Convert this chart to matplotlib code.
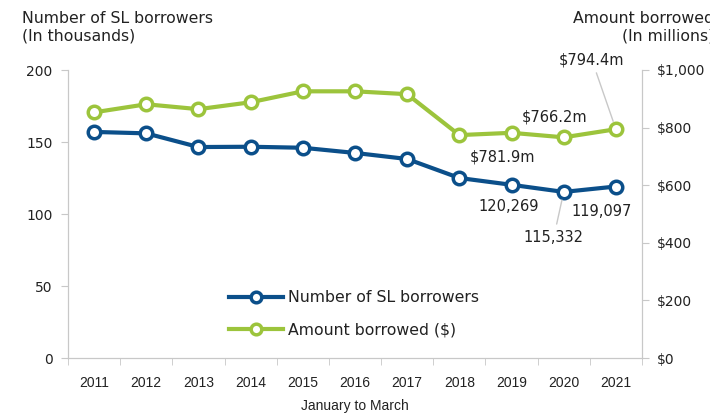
import matplotlib
matplotlib.use("Agg")
import matplotlib.pyplot as plt

years = ["2011", "2012", "2013", "2014", "2015", "2016", "2017", "2018", "2019", "2020", "2021"]
borrowers = [157.0, 156.0, 146.5, 146.7, 146.0, 142.4, 138.2, 125.0, 120.269, 115.332, 119.097]
amount = [853, 881, 864, 888, 926, 926, 916, 774, 781.9, 766.2, 794.4]
left_ticks = [0, 50, 100, 150, 200]
right_ticks = [0, 200, 400, 600, 800, 1000]
right_labels = ["$0", "$200", "$400", "$600", "$800", "$1,000"]

BLUE = "#0b4f8a"
GREEN = "#9cc43c"
GRAY = "#c8c8c8"
TXT = "#222222"
plt.rcParams["font.family"] = ["DejaVu Sans"]

fig = plt.figure(figsize=(7.1, 4.16), dpi=100)
ax = fig.add_axes([68/710, 1-358/416, 574/710, 288/416])
ax2 = ax.twinx()

x = list(range(len(years)))
l1, = ax.plot(x, borrowers, color=BLUE, lw=3, marker="o", ms=9, mfc="white", mec=BLUE, mew=2.5,
              label="Number of SL borrowers", zorder=3)
l2, = ax2.plot(x, amount, color=GREEN, lw=3, marker="o", ms=9, mfc="white", mec=GREEN, mew=2.5,
               label="Amount borrowed ($)", zorder=3)

ax.set_xlim(-0.5, len(years) - 0.5)
ax.set_ylim(0, 200)
ax2.set_ylim(0, 1000)
ax.set_yticks(left_ticks)
ax.set_yticklabels([str(t) for t in left_ticks])
ax2.set_yticks(right_ticks)
ax2.set_yticklabels(right_labels)

ax.set_xticks(x)
ax.set_xticklabels(years, family="Liberation Sans", fontsize=10, color=TXT)
ax.set_xticks([i - 0.5 for i in range(len(years) + 1)], minor=True)
ax.tick_params(axis="x", which="major", length=0, pad=13)
ax.tick_params(axis="x", which="minor", length=5, color=GRAY)

for a in (ax, ax2):
    for s in a.spines.values():
        s.set_color(GRAY)
    a.spines["top"].set_visible(False)
ax.tick_params(axis="y", length=5, color=GRAY, labelsize=10, labelcolor=TXT, pad=6)
ax2.tick_params(axis="y", length=5, color=GRAY, labelsize=10, labelcolor=TXT, pad=6)

# annotations
ann_kw = dict(fontsize=10.5, color=TXT, ha="center", va="center")
ax2.annotate("$794.4m", xy=(10, amount[10]), xytext=(9.54, 1035), annotation_clip=False,
             arrowprops=dict(arrowstyle="-", color=GRAY, lw=1, shrinkA=2, shrinkB=6), **ann_kw)
ax2.annotate("$766.2m", xy=(9, amount[9]), xytext=(8.83, 837), **ann_kw)
ax2.annotate("$781.9m", xy=(8, amount[8]), xytext=(7.82, 698), **ann_kw)
ax.annotate("120,269", xy=(8, borrowers[8]), xytext=(7.95, 104.9), **ann_kw)
ax.annotate("119,097", xy=(10, borrowers[10]), xytext=(9.73, 102), **ann_kw)
ax.annotate("115,332", xy=(9, borrowers[9]), xytext=(8.81, 84),
            arrowprops=dict(arrowstyle="-", color=GRAY, lw=1, shrinkA=2, shrinkB=6), **ann_kw)

leg = ax.legend(handles=[l1, l2], loc="upper left", bbox_to_anchor=(0.256, 0.285), frameon=False,
                handlelength=3.45, labelspacing=1.1, fontsize=11.3, handletextpad=0.3,
                markerscale=0.85)
for t in leg.get_texts():
    t.set_color(TXT)

fig.text(22/710, 1-11/416, "Number of SL borrowers\n(In thousands)", ha="left", va="top",
         fontsize=11.3, color=TXT, linespacing=1.2)
fig.text(714/710, 1-11/416, "Amount borrowed\n(In millions)", ha="right", va="top",
         fontsize=11.3, color=TXT, linespacing=1.2, multialignment="right")
fig.text(355/710, 1-406/416, "January to March", ha="center", va="center",
         family="Liberation Sans", fontsize=10, color=TXT)

fig.savefig("out.png", dpi=100)
